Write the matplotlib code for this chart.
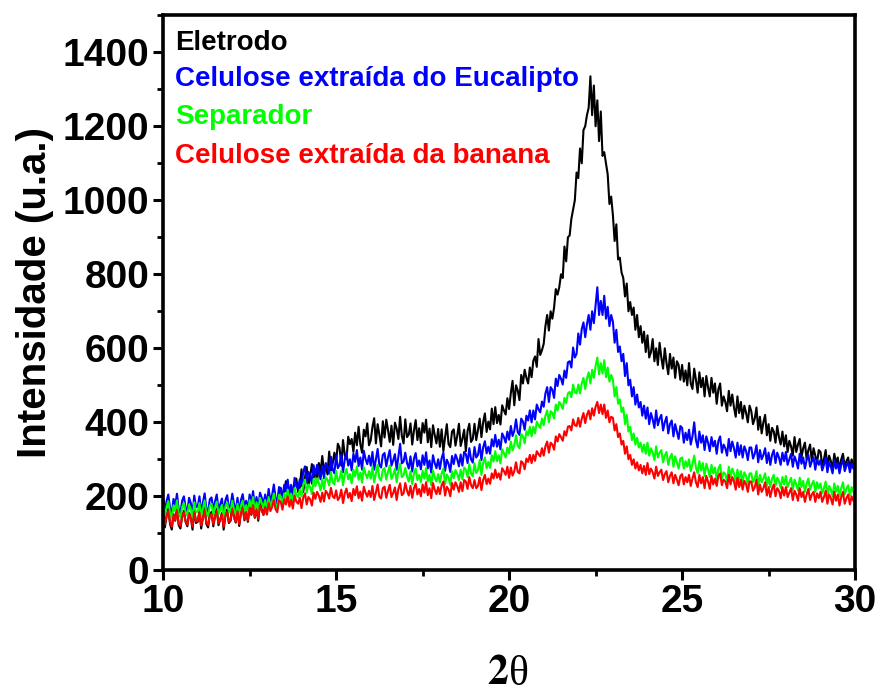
import numpy as np
import matplotlib
matplotlib.use("Agg")
import matplotlib.pyplot as plt

# Intensities read on a 0.05 deg grid from 2θ = 10 to 30 (one row per degree)
eletrodo = [
    158, 116, 147, 167, 125, 110, 152, 134, 170, 122, 113, 146, 161, 131, 119, 155, 143, 110, 164, 128,
    131, 161, 113, 143, 170, 125, 116, 152, 158, 119, 146, 167, 122, 137, 155, 110, 149, 164, 128, 134,
    177, 144, 129, 165, 120, 159, 174, 135, 158, 131, 176, 150, 188, 142, 168, 134, 185, 164, 150, 175,
    151, 200, 180, 198, 215, 178, 172, 213, 222, 185, 215, 241, 192, 211, 228, 190, 236, 248, 212, 224,
    273, 212, 251, 279, 230, 255, 287, 250, 272, 238, 290, 265, 309, 266, 286, 259, 321, 270, 288, 318,
    293, 342, 331, 283, 352, 311, 300, 361, 341, 355, 320, 372, 338, 388, 341, 318, 380, 362, 397, 338,
    351, 387, 411, 343, 395, 367, 335, 403, 359, 407, 379, 347, 391, 339, 399, 383, 355, 415, 363, 343,
    408, 360, 367, 397, 340, 378, 406, 352, 384, 344, 398, 372, 407, 346, 383, 333, 392, 366, 343, 382,
    334, 381, 322, 360, 395, 341, 333, 375, 381, 337, 363, 396, 336, 355, 380, 322, 377, 396, 347, 355,
    396, 352, 379, 410, 360, 400, 424, 374, 402, 381, 437, 395, 441, 398, 420, 394, 446, 432, 421, 465,
    436, 479, 512, 446, 500, 486, 460, 528, 505, 542, 520, 505, 548, 522, 566, 578, 550, 625, 582, 595,
    612, 660, 690, 648, 700, 680, 710, 760, 745, 765, 800, 790, 875, 835, 900, 905, 950, 975, 1000, 1075,
    1060, 1140, 1100, 1190, 1200, 1230, 1250, 1335, 1230, 1310, 1200, 1270, 1160, 1240, 1120, 1130, 1100, 1070, 990, 1010,
    960, 890, 935, 840, 845, 805, 790, 740, 775, 700, 725, 690, 710, 650, 690, 630, 660, 615, 645, 590,
    635, 575, 590, 625, 565, 600, 555, 615, 575, 545, 600, 560, 530, 585, 545, 575, 520, 565, 555, 515,
    555, 510, 540, 500, 560, 505, 490, 545, 515, 480, 535, 495, 520, 470, 525, 495, 470, 520, 480, 505,
    450, 490, 505, 445, 470, 455, 430, 485, 445, 475, 440, 415, 470, 425, 455, 410, 445, 425, 400, 445,
    430, 395, 410, 440, 380, 415, 370, 400, 420, 365, 395, 350, 385, 375, 345, 390, 360, 340, 375, 335,
    365, 320, 350, 335, 310, 360, 320, 340, 355, 305, 330, 345, 300, 325, 340, 295, 330, 310, 290, 325,
    320, 285, 300, 325, 280, 310, 295, 275, 315, 290, 305, 270, 300, 315, 280, 295, 305, 275, 300, 285,
    290,
]

eucalipto = [
    198, 160, 187, 205, 168, 152, 193, 176, 207, 165, 155, 188, 200, 170, 158, 196, 182, 153, 202, 171,
    172, 200, 155, 183, 208, 166, 158, 192, 197, 161, 186, 205, 164, 178, 194, 152, 189, 203, 169, 175,
    207, 178, 162, 196, 155, 190, 206, 170, 188, 165, 205, 182, 214, 172, 198, 168, 210, 196, 180, 205,
    177, 220, 188, 203, 232, 196, 183, 225, 222, 195, 231, 213, 245, 207, 231, 199, 250, 228, 221, 246,
    228, 266, 281, 236, 266, 257, 234, 284, 258, 285, 270, 246, 283, 249, 290, 281, 261, 307, 273, 262,
    311, 276, 285, 313, 265, 300, 318, 283, 300, 270, 315, 293, 325, 282, 305, 272, 323, 301, 287, 310,
    283, 320, 272, 300, 328, 285, 278, 312, 317, 281, 305, 325, 283, 297, 314, 272, 308, 342, 289, 294,
    318, 290, 275, 308, 267, 302, 317, 281, 297, 273, 311, 285, 319, 275, 297, 264, 311, 290, 276, 300,
    274, 303, 318, 269, 299, 288, 266, 309, 287, 313, 301, 281, 313, 283, 320, 314, 290, 330, 300, 291,
    333, 305, 312, 341, 298, 332, 349, 316, 334, 315, 354, 335, 366, 334, 353, 327, 370, 360, 345, 375,
    353, 390, 363, 377, 408, 373, 366, 410, 402, 380, 418, 405, 432, 400, 432, 408, 448, 435, 427, 456,
    442, 478, 495, 455, 495, 488, 466, 518, 498, 528, 518, 502, 540, 520, 562, 565, 548, 602, 575, 585,
    640, 610, 652, 670, 630, 665, 690, 650, 700, 668, 718, 765, 690, 728, 690, 742, 680, 712, 660, 690,
    672, 615, 650, 590, 605, 565, 585, 525, 560, 500, 515, 470, 495, 448, 475, 440, 455, 418, 445, 410,
    440, 395, 425, 408, 385, 432, 392, 410, 420, 378, 400, 415, 370, 395, 405, 362, 395, 375, 355, 390,
    385, 345, 372, 352, 380, 340, 362, 400, 352, 332, 375, 345, 365, 325, 362, 345, 322, 360, 335, 350,
    315, 350, 362, 318, 340, 330, 310, 355, 322, 348, 330, 305, 345, 312, 338, 305, 335, 322, 298, 332,
    332, 302, 315, 338, 292, 325, 300, 312, 330, 290, 318, 285, 312, 325, 290, 318, 305, 285, 318, 295,
    320, 285, 300, 315, 280, 308, 295, 275, 315, 288, 305, 275, 298, 312, 280, 295, 305, 272, 300, 285,
    298, 270, 285, 305, 265, 292, 280, 262, 298, 275, 290, 262, 285, 300, 268, 282, 292, 265, 288, 275,
    280,
]

separador = [
    180, 148, 172, 187, 155, 141, 176, 160, 189, 151, 143, 171, 182, 158, 148, 178, 166, 141, 184, 157,
    158, 182, 144, 167, 189, 153, 146, 175, 180, 149, 170, 186, 151, 163, 177, 141, 172, 184, 156, 160,
    188, 162, 150, 180, 144, 175, 188, 158, 176, 154, 190, 170, 198, 162, 184, 158, 196, 182, 170, 190,
    163, 198, 173, 186, 208, 178, 168, 204, 200, 176, 208, 192, 218, 186, 207, 180, 222, 204, 198, 218,
    200, 232, 245, 210, 232, 225, 206, 247, 227, 249, 236, 216, 246, 219, 252, 245, 229, 265, 238, 232,
    269, 240, 247, 270, 230, 260, 274, 246, 260, 235, 272, 254, 281, 245, 264, 237, 279, 261, 249, 268,
    248, 280, 238, 262, 285, 249, 243, 272, 276, 245, 266, 283, 247, 259, 274, 238, 269, 288, 252, 257,
    277, 254, 240, 268, 233, 262, 275, 244, 258, 238, 269, 248, 276, 240, 258, 230, 270, 251, 240, 260,
    237, 262, 275, 233, 259, 250, 231, 268, 249, 271, 261, 244, 272, 246, 278, 272, 252, 287, 262, 254,
    289, 263, 271, 298, 258, 290, 305, 276, 293, 277, 311, 294, 322, 295, 311, 289, 327, 317, 305, 332,
    316, 348, 324, 338, 365, 336, 330, 368, 362, 343, 376, 365, 388, 362, 388, 370, 402, 392, 385, 410,
    392, 418, 432, 400, 430, 426, 410, 448, 432, 455, 448, 436, 466, 452, 478, 482, 468, 502, 482, 478,
    502, 478, 505, 520, 490, 518, 535, 505, 542, 520, 552, 575, 530, 560, 532, 568, 522, 548, 510, 528,
    515, 470, 495, 450, 462, 428, 440, 395, 420, 375, 388, 352, 370, 340, 358, 332, 345, 320, 340, 315,
    345, 310, 330, 318, 298, 335, 305, 318, 325, 292, 310, 320, 285, 305, 315, 280, 308, 292, 275, 302,
    305, 275, 295, 280, 300, 268, 288, 310, 278, 262, 295, 270, 290, 255, 288, 272, 252, 285, 262, 278,
    245, 275, 285, 248, 265, 260, 240, 280, 252, 275, 262, 238, 272, 245, 268, 238, 265, 255, 232, 262,
    262, 238, 248, 268, 228, 258, 238, 248, 262, 228, 252, 225, 248, 258, 228, 250, 242, 222, 252, 232,
    255, 225, 238, 250, 218, 245, 232, 215, 250, 225, 242, 212, 235, 248, 218, 232, 242, 212, 238, 222,
    235, 208, 222, 240, 202, 228, 218, 200, 235, 212, 228, 200, 222, 238, 205, 220, 230, 202, 225, 212,
    215,
]

banana = [
    153, 124, 146, 160, 131, 118, 150, 136, 162, 127, 120, 145, 156, 133, 123, 152, 141, 118, 158, 132,
    134, 156, 121, 142, 162, 129, 122, 148, 153, 125, 145, 160, 127, 138, 151, 118, 147, 158, 131, 136,
    166, 142, 131, 160, 125, 155, 168, 137, 156, 134, 169, 151, 176, 143, 164, 139, 175, 162, 150, 170,
    152, 182, 160, 171, 190, 165, 157, 189, 185, 164, 192, 178, 200, 172, 190, 167, 202, 186, 180, 196,
    168, 197, 208, 178, 198, 192, 175, 210, 193, 212, 202, 185, 210, 186, 215, 208, 194, 223, 200, 195,
    216, 190, 197, 218, 182, 208, 221, 196, 209, 187, 220, 203, 227, 195, 213, 188, 226, 210, 199, 215,
    198, 228, 190, 210, 232, 199, 194, 222, 226, 196, 215, 231, 198, 209, 224, 190, 220, 235, 203, 208,
    236, 215, 202, 228, 196, 222, 234, 205, 220, 200, 232, 210, 238, 203, 222, 195, 236, 218, 206, 225,
    206, 230, 240, 202, 226, 218, 200, 236, 218, 238, 228, 212, 238, 214, 244, 240, 220, 252, 230, 222,
    244, 222, 228, 251, 217, 244, 258, 233, 248, 234, 262, 248, 272, 250, 262, 245, 276, 268, 258, 280,
    250, 278, 256, 268, 292, 266, 262, 295, 290, 273, 302, 293, 312, 290, 312, 296, 322, 314, 308, 330,
    310, 335, 348, 318, 345, 340, 326, 362, 348, 368, 360, 350, 376, 364, 388, 390, 378, 408, 392, 390,
    412, 388, 410, 425, 398, 420, 432, 408, 438, 418, 442, 455, 425, 448, 422, 448, 412, 432, 400, 415,
    412, 378, 395, 360, 370, 340, 350, 315, 335, 300, 312, 285, 300, 275, 292, 270, 285, 262, 282, 258,
    290, 260, 275, 265, 248, 280, 255, 265, 272, 244, 260, 268, 238, 255, 265, 235, 258, 245, 230, 255,
    260, 232, 252, 238, 258, 228, 248, 265, 238, 225, 258, 235, 252, 222, 255, 240, 220, 255, 232, 248,
    228, 255, 262, 230, 245, 240, 222, 258, 232, 252, 240, 218, 250, 225, 245, 218, 242, 232, 212, 240,
    240, 215, 225, 245, 205, 232, 212, 222, 238, 202, 225, 198, 220, 232, 200, 222, 215, 195, 225, 202,
    225, 198, 210, 222, 190, 215, 205, 188, 222, 198, 212, 185, 205, 220, 190, 205, 212, 185, 208, 195,
    212, 185, 198, 215, 180, 205, 195, 178, 212, 188, 205, 175, 198, 212, 180, 195, 205, 178, 200, 188,
    190,
]

labels = ["Eletrodo", "Celulose extraída do Eucalipto", "Separador",
          "Celulose extraída da banana"]
colors = ["black", "blue", "#00ff00", "red"]
series = [eletrodo, eucalipto, separador, banana]

x_ticks = [10, 15, 20, 25, 30]
y_ticks = [0, 200, 400, 600, 800, 1000, 1200, 1400]

plt.rcParams['font.family'] = ['Liberation Sans', 'DejaVu Sans']
plt.rcParams['mathtext.fontset'] = 'stix'

fig = plt.figure(figsize=(8.77, 6.93), dpi=100)
ax = fig.add_axes([0.186, 0.177, 0.789, 0.801])

for y, c in zip(series, colors):
    two_theta = np.linspace(10, 30, len(y))
    ax.plot(two_theta, y, color=c, lw=1.5)

ax.set_xlim(10, 30)
ax.set_ylim(0, 1500)
ax.set_xticks(x_ticks)
ax.set_yticks(y_ticks)
ax.set_xticks(np.arange(10, 30.01, 2.5), minor=True)
ax.set_yticks(np.arange(0, 1501, 100), minor=True)
ax.tick_params(axis='both', which='major', direction='out', length=7, width=2.2,
               labelsize=28, top=False, right=False, pad=3)
ax.tick_params(axis='both', which='minor', direction='out', length=4, width=2,
               top=False, right=False)
for lab in ax.get_xticklabels() + ax.get_yticklabels():
    lab.set_fontweight('bold')
for s in ax.spines.values():
    s.set_linewidth(2.6)

ax.set_ylabel("Intensidade (u.a.)", fontsize=29, fontweight='bold', labelpad=6)

# x label "2θ": bold "2" + regular θ in a serif face
ax.text(0.5, -0.185, r"$\mathbf{2}$", transform=ax.transAxes, ha='right',
        va='center', fontsize=30)
ax.text(0.5, -0.188, "θ", transform=ax.transAxes, ha='left', va='center',
        fontsize=30, family='Liberation Serif')

ys = [0.950, 0.885, 0.816, 0.746]
for lab, c, yy in zip(labels, colors, ys):
    ax.text(0.017, yy, lab, color=c, fontsize=20, fontweight='bold',
            transform=ax.transAxes, va='center', ha='left')

fig.savefig("out.png", dpi=100)
